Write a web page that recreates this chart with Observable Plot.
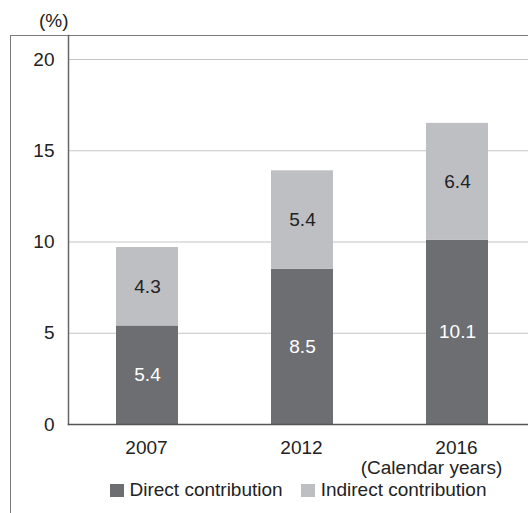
<!DOCTYPE html>
<html>
<head>
<meta charset="utf-8">
<script src="https://cdn.jsdelivr.net/npm/d3@7"></script>
<script src="https://cdn.jsdelivr.net/npm/@observablehq/plot@0.6"></script>
<style>
  html, body { margin: 0; padding: 0; background: #fff; }
  body { font-family: "Liberation Sans", Arial, Helvetica, sans-serif; color: #222; }
  #wrap { position: relative; width: 528px; height: 513px; overflow: hidden; }
  #frame { position: absolute; left: 10px; top: 34.5px; width: 520px; height: 480px;
           border-left: 1.5px solid #7a7a7a; border-top: 1.5px solid #7a7a7a; box-sizing: border-box; }
  #chart { position: absolute; left: 0; top: 0; }
  #legend { position: absolute; left: 68px; top: 479px; width: 460px; display: flex;
            justify-content: center; align-items: center; gap: 18px; font-size: 19px; line-height: 22px; }
  .item { display: flex; align-items: center; }
  .sw { width: 14px; height: 13px; margin-right: 6px; display: inline-block; }
</style>
</head>
<body>
<div id="wrap">
  <div id="frame"></div>
  <div id="chart"></div>
  <div id="legend"></div>
</div>
<script>
const years = ["2007", "2012", "2016"];
const direct = [5.4, 8.5, 10.1];
const indirect = [4.3, 5.4, 6.4];
const seriesNames = ["Direct contribution", "Indirect contribution"];
const seriesColors = ["#6d6e72", "#bebfc3"];
const yTicks = [0, 5, 10, 15, 20];
const unitLabel = "(%)";
const xAxisNote = "(Calendar years)";

const rows = [];
years.forEach((y, i) => {
  rows.push({year: y, series: seriesNames[0], value: direct[i], mid: direct[i] / 2});
  rows.push({year: y, series: seriesNames[1], value: indirect[i], mid: direct[i] + indirect[i] / 2});
});

const font = '"Liberation Sans", Arial, Helvetica, sans-serif';
const fs = 19;

const plot = Plot.plot({
  width: 528,
  height: 478,
  marginLeft: 68,
  marginRight: 0,
  marginTop: 35,
  marginBottom: 54,
  style: {fontFamily: font, fontSize: fs + "px", color: "#222", background: "transparent", overflow: "visible"},
  x: {domain: years, range: [68, 535], paddingInner: 0.6, paddingOuter: 0.3},
  y: {domain: [0, 20], range: [424, 59]},
  color: {domain: seriesNames, range: seriesColors},
  marks: [
    Plot.gridY({ticks: yTicks.filter(d => d > 0), stroke: "#c4c4c4", strokeOpacity: 1, strokeWidth: 1.2}),
    Plot.barY(rows, Plot.stackY({x: "year", y: "value", fill: "series", order: seriesNames})),
    Plot.text(rows.filter(d => d.series === seriesNames[0]), {
      x: "year", y: "mid", text: d => d.value.toFixed(1), fill: "white", fontSize: fs
    }),
    Plot.text(rows.filter(d => d.series === seriesNames[1]), {
      x: "year", y: "mid", text: d => d.value.toFixed(1), fill: "#222", fontSize: fs
    }),
    Plot.axisY({ticks: yTicks, tickSize: 0, tickPadding: 14, fontSize: fs, label: null, fill: "#222"}),
    Plot.axisX({tickSize: 0, tickPadding: 16, fontSize: fs, label: null, fill: "#222", dx: -1}),
    Plot.text([xAxisNote], {x: [years[years.length - 1]], frameAnchor: "bottom", lineAnchor: "middle",
      dy: 43, dx: -26, fontSize: fs, fill: "#222"}),
    Plot.frame({anchor: "left", stroke: "#666", strokeWidth: 1.5}),
    Plot.frame({anchor: "bottom", stroke: "#555", strokeWidth: 1.5}),
    Plot.text([unitLabel], {frameAnchor: "top-left", textAnchor: "end", lineAnchor: "middle", dy: -15, fontSize: fs, fill: "#222"})
  ]
});
document.getElementById("chart").appendChild(plot);

const legend = document.getElementById("legend");
seriesNames.forEach((name, i) => {
  const item = document.createElement("div");
  item.className = "item";
  const sw = document.createElement("span");
  sw.className = "sw";
  sw.style.background = seriesColors[i];
  const label = document.createElement("span");
  label.textContent = name;
  item.appendChild(sw);
  item.appendChild(label);
  legend.appendChild(item);
});
</script>
</body>
</html>
